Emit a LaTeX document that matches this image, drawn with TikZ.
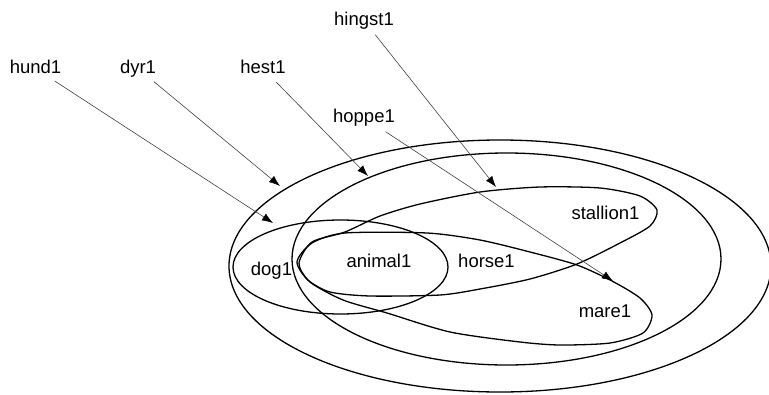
\documentclass[tikz,border=0pt]{standalone}
\usepackage{fontspec}
\setmainfont{Liberation Sans}
\usetikzlibrary{arrows.meta}
\begin{document}
\begin{tikzpicture}[x=1pt,y=-1pt,
  setline/.style={line width=1.3pt,black},
  lbl/.style={inner sep=0pt,anchor=base,font=\fontsize{18.5}{20}\selectfont},
  ptr/.style={line width=0.6pt,black!75,-{Latex[length=11pt,width=8pt,black]},shorten <=7pt}]
\useasboundingbox (0,0) rectangle (769,394);
% sets
\draw[setline] (500,266) ellipse [x radius=271, y radius=126];
\draw[setline] (506.5,259) ellipse [x radius=214.5, y radius=106];
\draw[setline] (340.5,267) ellipse [x radius=107.5, y radius=47];
% stallion leaf
\draw[setline] plot[smooth cycle, tension=0.45] coordinates {
  (299,263) (312,242) (345,232) (380,216) (420,204) (480,192) (540,187)
  (600,188) (640,196) (657,210) (650,226) (620,243) (577,264) (530,279)
  (480,289) (440,295) (370,296) (330,292) (308,280)};
% mare leaf
\draw[setline] plot[smooth cycle, tension=0.45] coordinates {
  (297,262) (312,243) (345,233) (427,233) (480,240) (530,252) (577,265)
  (612,281) (640,298) (652,315) (643,333) (610,343) (560,345) (520,342)
  (450,332) (387,313) (343,300) (310,282)};
% labels inside
\node[lbl] (dog) at (271.5,275) {dog1};
\node[lbl] (animal) at (379,267) {animal1};
\node[lbl] (horse) at (486.5,267) {horse1};
\node[lbl] (stallion) at (605.5,219) {stallion1};
\node[lbl] (mare) at (605,317) {mare1};
% Norwegian labels
\node[lbl,text height=13pt,text depth=4pt] (hund) at (35.5,73) {hund1};
\node[lbl,text height=13pt,text depth=4pt] (dyr) at (138,73) {dyr1};
\node[lbl,text height=13pt,text depth=4pt] (hest) at (263,73) {hest1};
\node[lbl,text height=13pt,text depth=4pt] (hingst) at (364,25) {hingst1};
\node[lbl,text height=13pt,text depth=4pt] (hoppe) at (364,122) {hoppe1};
% arrow targets
\coordinate (tdog) at (273,223);
\coordinate (tanimal) at (280,186);
\coordinate (thorse) at (368,176);
\coordinate (tstallion) at (496,187);
\coordinate (tmare) at (613,281);
\draw[ptr] (hund) -- (tdog);
\draw[ptr] (dyr) -- (tanimal);
\draw[ptr] (hest) -- (thorse);
\draw[ptr] (hingst) -- (tstallion);
\draw[ptr,shorten <=10pt] (hoppe) -- (tmare);
\end{tikzpicture}
\end{document}
